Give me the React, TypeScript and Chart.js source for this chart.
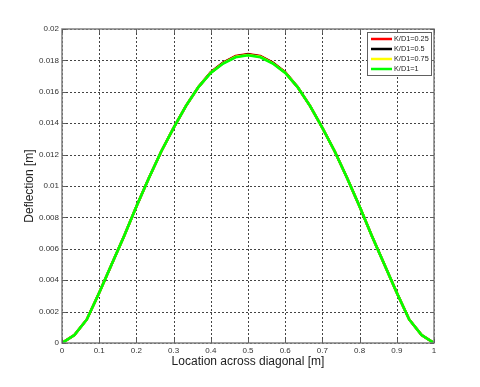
import React, { useEffect, useRef } from "react";
import { Chart, registerables } from "chart.js";

Chart.register(...registerables);

const xPositions = [
  0, 0.0333, 0.0667, 0.1, 0.1333, 0.1667, 0.2, 0.2333, 0.2667, 0.3, 0.3333,
  0.3667, 0.4, 0.4333, 0.4667, 0.5, 0.5333, 0.5667, 0.6, 0.6333, 0.6667, 0.7,
  0.7333, 0.7667, 0.8, 0.8333, 0.8667, 0.9, 0.9333, 0.9667, 1,
];

const kd025 = [
  0, 0.0005, 0.0015, 0.0032, 0.005, 0.0068, 0.0087, 0.0105, 0.0122, 0.0137,
  0.0151, 0.0163, 0.01725, 0.01787, 0.01828, 0.0184, 0.01828, 0.01787, 0.01725,
  0.0163, 0.0151, 0.0137, 0.0122, 0.0105, 0.0087, 0.0068, 0.005, 0.0032,
  0.0015, 0.0005, 0,
];
const kd05 = [
  0, 0.0005, 0.0015, 0.0032, 0.005, 0.0068, 0.0087, 0.0105, 0.0122, 0.0137,
  0.0151, 0.0163, 0.01723, 0.01784, 0.01825, 0.01837, 0.01825, 0.01784, 0.01723,
  0.0163, 0.0151, 0.0137, 0.0122, 0.0105, 0.0087, 0.0068, 0.005, 0.0032,
  0.0015, 0.0005, 0,
];
const kd075 = [
  0, 0.0005, 0.0015, 0.0032, 0.005, 0.0068, 0.0087, 0.0105, 0.0122, 0.0137,
  0.0151, 0.0163, 0.01722, 0.01782, 0.01823, 0.01835, 0.01823, 0.01782, 0.01722,
  0.0163, 0.0151, 0.0137, 0.0122, 0.0105, 0.0087, 0.0068, 0.005, 0.0032,
  0.0015, 0.0005, 0,
];
const kd1 = [
  0, 0.0005, 0.0015, 0.0032, 0.005, 0.0068, 0.0087, 0.0105, 0.0122, 0.0137,
  0.0151, 0.0163, 0.0172, 0.0178, 0.0182, 0.01832, 0.0182, 0.0178, 0.0172,
  0.0163, 0.0151, 0.0137, 0.0122, 0.0105, 0.0087, 0.0068, 0.005, 0.0032,
  0.0015, 0.0005, 0,
];

const seriesNames = ["K/D1=0.25", "K/D1=0.5", "K/D1=0.75", "K/D1=1"];
const seriesColors = ["#ff0000", "#000000", "#ffff00", "#00ff00"];
const seriesValues = [kd025, kd05, kd075, kd1];

const xTitle = "Location across diagonal [m]";
const yTitle = "Deflection [m]";

const FONT = "'Liberation Sans', Arial, sans-serif";

const fmt = (v: number) => {
  const s = Number(v).toFixed(3);
  return String(parseFloat(s));
};

const gridPlugin = {
  id: "dottedGrid",
  beforeDatasetsDraw(chart: any) {
    const { ctx, chartArea } = chart;
    const { left, right, top, bottom } = chartArea;
    const xs = chart.scales.x;
    const ys = chart.scales.y;
    ctx.save();
    ctx.strokeStyle = "#444444";
    ctx.lineWidth = 1;
    ctx.setLineDash([2, 2]);
    xs.ticks.forEach((t: any) => {
      const px = Math.round(xs.getPixelForValue(t.value)) + 0.5;
      ctx.beginPath();
      ctx.moveTo(px, top);
      ctx.lineTo(px, bottom);
      ctx.stroke();
    });
    ys.ticks.forEach((t: any) => {
      const py = Math.round(ys.getPixelForValue(t.value)) + 0.5;
      ctx.beginPath();
      ctx.moveTo(left, py);
      ctx.lineTo(right, py);
      ctx.stroke();
    });
    ctx.restore();
  },
};

const frameAndLegend = {
  id: "frameAndLegend",
  afterDraw(chart: any) {
    const { ctx, chartArea } = chart;
    const { left, right, top, bottom } = chartArea;
    ctx.save();
    ctx.strokeStyle = "#808080";
    ctx.lineWidth = 1.5;
    ctx.strokeRect(left, top, right - left, bottom - top);
    ctx.lineWidth = 1;
    ctx.strokeStyle = "#606060";
    const xs = chart.scales.x;
    const ys = chart.scales.y;
    xs.ticks.forEach((t: any) => {
      const px = Math.round(xs.getPixelForValue(t.value)) + 0.5;
      ctx.beginPath();
      ctx.moveTo(px, bottom);
      ctx.lineTo(px, bottom - 4);
      ctx.moveTo(px, top);
      ctx.lineTo(px, top + 4);
      ctx.stroke();
    });
    ys.ticks.forEach((t: any) => {
      const py = Math.round(ys.getPixelForValue(t.value)) + 0.5;
      ctx.beginPath();
      ctx.moveTo(left, py);
      ctx.lineTo(left + 4, py);
      ctx.moveTo(right, py);
      ctx.lineTo(right - 4, py);
      ctx.stroke();
    });
    const bx = 367;
    const by = 32;
    const bw = 64;
    const bh = 43;
    ctx.fillStyle = "#ffffff";
    ctx.fillRect(bx, by, bw, bh);
    ctx.strokeStyle = "#606060";
    ctx.lineWidth = 1;
    ctx.strokeRect(bx + 0.5, by + 0.5, bw, bh);
    ctx.font = "7.3px " + FONT;
    ctx.textBaseline = "middle";
    seriesNames.forEach((name, i) => {
      const y = by + 7 + i * 10;
      ctx.strokeStyle = seriesColors[i];
      ctx.lineWidth = 2.5;
      ctx.beginPath();
      ctx.moveTo(bx + 4, y);
      ctx.lineTo(bx + 25, y);
      ctx.stroke();
      ctx.fillStyle = "#222222";
      ctx.fillText(name, bx + 27, y);
    });
    ctx.restore();
  },
};

export default function App() {
  const ref = useRef<HTMLCanvasElement>(null);
  useEffect(() => {
    if (!ref.current) return;
    const chart = new Chart(ref.current, {
      type: "line",
      data: {
        datasets: seriesNames.map((name, i) => ({
          label: name,
          data: xPositions.map((x, j) => ({ x, y: seriesValues[i][j] })),
          borderColor: seriesColors[i],
          backgroundColor: seriesColors[i],
          borderWidth: 2.5,
          pointRadius: 0,
          tension: 0,
          fill: false,
          order: seriesNames.length - 1 - i,
        })),
      },
      options: {
        animation: false,
        responsive: false,
        maintainAspectRatio: false,
        layout: { padding: { top: 29, right: 46, left: 0, bottom: 0 } },
        plugins: { legend: { display: false }, tooltip: { enabled: false } },
        scales: {
          x: {
            type: "linear",
            min: 0,
            max: 1,
            ticks: {
              stepSize: 0.1,
              callback: (v: any) => fmt(v),
              font: { size: 8, family: FONT },
              color: "#333333",
              padding: 3,
              maxRotation: 0,
            },
            grid: { display: false, drawTicks: false },
            border: { display: false },
            title: {
              display: true,
              text: xTitle,
              font: { size: 12, family: FONT },
              color: "#222222",
              padding: { top: 3, bottom: 18 },
            },
            afterFit: (s: any) => {
              s.height = 44;
            },
          },
          y: {
            type: "linear",
            min: 0,
            max: 0.02,
            ticks: {
              stepSize: 0.002,
              callback: (v: any) => fmt(v),
              font: { size: 8, family: FONT },
              color: "#333333",
              padding: 3,
            },
            grid: { display: false, drawTicks: false },
            border: { display: false },
            title: {
              display: true,
              text: yTitle,
              font: { size: 12, family: FONT },
              color: "#222222",
              padding: { top: 22, bottom: 4 },
            },
            afterFit: (s: any) => {
              s.width = 62;
            },
          },
        },
      },
      plugins: [gridPlugin, frameAndLegend],
    } as any);
    return () => chart.destroy();
  }, []);
  return (
    <div style={{ position: "fixed", left: 0, top: 0, width: 480, height: 387, background: "#fff" }}>
      <canvas ref={ref} width={480} height={387} style={{ width: 480, height: 387 }} />
    </div>
  );
}
